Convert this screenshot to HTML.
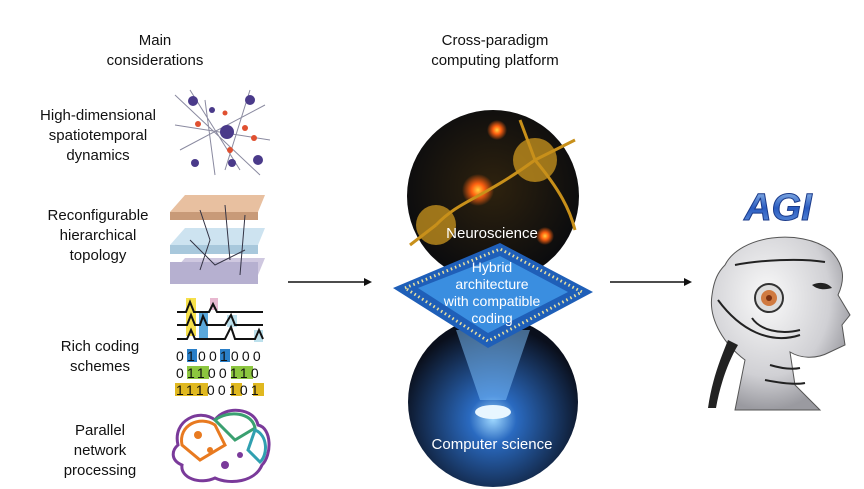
<!DOCTYPE html>
<html><head><meta charset="utf-8"><style>
html,body{margin:0;padding:0;background:#fff;width:864px;height:489px;overflow:hidden}
svg{display:block;font-size:15px}
text{font-family:"Liberation Sans",sans-serif;fill:#111}
</style></head><body>
<svg width="864" height="489" viewBox="0 0 864 489" xmlns="http://www.w3.org/2000/svg">
<defs>
<radialGradient id="neu" cx="50%" cy="45%" r="55%"><stop offset="0" stop-color="#2e220e"/><stop offset="1" stop-color="#0a0b0e"/></radialGradient>
<radialGradient id="cs" cx="50%" cy="60%" r="55%"><stop offset="0" stop-color="#9fd8ff"/><stop offset="0.25" stop-color="#2a6ac0"/><stop offset="1" stop-color="#0a0f1c"/></radialGradient>
<radialGradient id="glow" r="50%"><stop offset="0" stop-color="#ffd040"/><stop offset="0.4" stop-color="#ff6010"/><stop offset="1" stop-color="#ff6010" stop-opacity="0"/></radialGradient>
<linearGradient id="agi" x1="0" y1="0" x2="0" y2="1"><stop offset="0" stop-color="#9fc6f0"/><stop offset="0.5" stop-color="#2a5cc0"/><stop offset="1" stop-color="#6a9ae0"/></linearGradient>
<radialGradient id="head" cx="40%" cy="35%" r="65%"><stop offset="0" stop-color="#fafafa"/><stop offset="0.7" stop-color="#d0d0d4"/><stop offset="1" stop-color="#9a9aa0"/></radialGradient>
</defs>
<text x="155" y="45" text-anchor="middle">Main</text>
<text x="155" y="65" text-anchor="middle">considerations</text>
<text x="98" y="120" text-anchor="middle">High-dimensional</text>
<text x="98" y="140" text-anchor="middle">spatiotemporal</text>
<text x="98" y="160" text-anchor="middle">dynamics</text>
<text x="98" y="220" text-anchor="middle">Reconfigurable</text>
<text x="98" y="240" text-anchor="middle">hierarchical</text>
<text x="98" y="260" text-anchor="middle">topology</text>
<text x="100" y="351" text-anchor="middle">Rich coding</text>
<text x="100" y="371" text-anchor="middle">schemes</text>
<text x="100" y="435" text-anchor="middle">Parallel</text>
<text x="100" y="455" text-anchor="middle">network</text>
<text x="100" y="475" text-anchor="middle">processing</text>
<text x="495" y="45" text-anchor="middle">Cross-paradigm</text>
<text x="495" y="65" text-anchor="middle">computing platform</text>

<g stroke="#8a8aa0" stroke-width="1" fill="none">
<path d="M175 95 L260 175 M180 150 L265 105 M190 90 L240 170 M175 125 L270 140 M205 100 L215 175 M250 90 L225 170"/>
</g>
<g fill="#4a3a8a">
<circle cx="227" cy="132" r="7"/><circle cx="193" cy="101" r="5"/><circle cx="250" cy="100" r="5"/><circle cx="258" cy="160" r="5"/><circle cx="195" cy="163" r="4"/><circle cx="232" cy="163" r="4"/><circle cx="212" cy="110" r="3"/>
</g>
<g fill="#e05030"><circle cx="198" cy="124" r="3"/><circle cx="245" cy="128" r="3"/><circle cx="254" cy="138" r="3"/><circle cx="230" cy="150" r="3"/><circle cx="225" cy="113" r="2.5"/></g>

<polygon points="170,212 185,195 265,195 258,212" fill="#e8c0a0"/><rect x="170" y="212" width="88" height="8" fill="#c89a78"/>
<polygon points="170,245 185,228 265,228 258,245" fill="#c8e0ee" opacity=".9"/><rect x="170" y="245" width="88" height="9" fill="#a8c8dc"/>
<polygon points="170,275 185,258 265,258 258,275" fill="#cfc8e0"/><rect x="170" y="262" width="88" height="22" fill="#b6b0d0"/>
<g stroke="#334" stroke-width="1" fill="none"><path d="M200 210 L210 240 L200 270 M225 205 L230 260 M245 215 L240 275 M190 240 L215 265 L245 250"/></g>

<rect x="186" y="298" width="10" height="38" fill="#f6e04a"/><rect x="199" y="313" width="9" height="25" fill="#5aa8dc"/>
<rect x="210" y="298" width="8" height="12" fill="#e8b8d0"/><rect x="227" y="315" width="10" height="12" fill="#bce0ec"/><rect x="254" y="330" width="9" height="12" fill="#bce0ec"/>
<g stroke="#111" stroke-width="2" fill="none">
<path d="M177 312 H186 L190 302 L194 312 H209 L213 304 L217 312 H263"/>
<path d="M177 325 H187 L191 315 L195 325 H200 L203 316 L207 325 H225 L231 315 L235 325 H263"/>
<path d="M177 339 H187 L191 330 L195 339 H225 L231 327 L235 339 H255 L259 330 L263 339"/>
</g>
<rect x="187" y="349" width="10" height="13" fill="#2a7fc8"/><rect x="220" y="349" width="10" height="13" fill="#2a7fc8"/>
<rect x="187" y="366" width="22" height="13" fill="#8cc63f"/><rect x="231" y="366" width="22" height="13" fill="#8cc63f"/>
<rect x="175" y="383" width="33" height="13" fill="#e0b820"/><rect x="231" y="383" width="11" height="13" fill="#e0b820"/><rect x="253" y="383" width="11" height="13" fill="#e0b820"/>
<text x="176" y="361" font-size="14" letter-spacing="3.2">01001000</text>
<text x="176" y="378" font-size="14" letter-spacing="3.2">01100110</text>
<text x="176" y="395" font-size="14" letter-spacing="3.2">11100101</text>

<g fill="none" stroke-width="3">
<path d="M178 445 C172 420 200 408 215 420 C225 405 255 408 258 425 C272 428 272 455 262 465 C255 482 230 485 215 478 C200 485 180 478 182 465 C170 460 172 450 178 445Z" stroke="#7a3a9a"/>
<path d="M182 445 C178 425 200 415 215 425 L225 445 L200 460 Z" stroke="#e87a20"/>
<path d="M215 420 C228 410 252 412 255 428 L235 440 Z" stroke="#3aa070"/>
<path d="M255 430 C268 435 268 455 260 462 L248 450 Z" stroke="#30a0b0"/>
</g>
<g fill="#7a3a9a"><circle cx="225" cy="465" r="4"/><circle cx="240" cy="455" r="3"/></g>
<g fill="#e87a20"><circle cx="198" cy="435" r="4"/><circle cx="210" cy="450" r="3"/></g>

<g stroke="#111" stroke-width="1.5"><line x1="288" y1="282" x2="366" y2="282"/><line x1="610" y1="282" x2="686" y2="282"/></g>
<polygon points="372,282 364,278 364,286" fill="#111"/><polygon points="692,282 684,278 684,286" fill="#111"/>

<circle cx="493" cy="196" r="86" fill="url(#neu)"/>
<circle cx="436" cy="225" r="20" fill="#d8a020" opacity=".7"/><circle cx="535" cy="160" r="22" fill="#d8a020" opacity=".7"/>
<circle cx="478" cy="190" r="16" fill="url(#glow)"/><circle cx="497" cy="130" r="10" fill="url(#glow)"/><circle cx="545" cy="236" r="9" fill="url(#glow)"/>
<g stroke="#c8901a" stroke-width="3" fill="none"><path d="M436 225 C460 200 480 200 535 160 M535 160 L575 140 M535 160 L520 120 M436 225 L410 245 M535 160 C560 190 570 210 575 230"/></g>
<text x="492" y="238" text-anchor="middle" style="fill:#fff">Neuroscience</text>
<circle cx="493" cy="402" r="85" fill="url(#cs)"/>
<polygon points="480,400 506,400 530,330 456,330" fill="#7fc4ff" opacity=".5"/>
<ellipse cx="493" cy="412" rx="18" ry="7" fill="#e8f6ff"/>
<text x="492" y="449" text-anchor="middle" style="fill:#fff">Computer science</text>
<polygon points="393,288 500,243 593,292 488,348" fill="#1f5fb8"/>
<polygon points="405,288 500,249 582,292 488,341" fill="none" stroke="#e8e0a0" stroke-width="3" stroke-dasharray="1.5 3"/>
<polygon points="418,288 500,256 568,292 488,333" fill="#3a8ee0"/>
<text x="492" y="272" text-anchor="middle" font-size="14" style="fill:#fff">Hybrid</text>
<text x="492" y="289" text-anchor="middle" font-size="14" style="fill:#fff">architecture</text>
<text x="492" y="306" text-anchor="middle" font-size="14" style="fill:#fff">with compatible</text>
<text x="492" y="323" text-anchor="middle" font-size="14" style="fill:#fff">coding</text>

<text x="778" y="220" text-anchor="middle" font-size="38" font-weight="bold" font-style="italic" style="fill:url(#agi);stroke:#1a3a8a;stroke-width:1">AGI</text>
<path d="M725 265 C740 235 800 228 830 250 C845 265 845 280 838 295 L850 315 L842 325 L845 345 L830 352 C815 360 800 358 790 352 L795 385 L820 410 H735 L745 360 C725 345 708 320 712 295 C714 280 718 272 725 265Z" fill="url(#head)" stroke="#555" stroke-width="1"/>
<g stroke="#222" stroke-width="2" fill="none"><path d="M735 265 C760 260 800 258 825 262 M718 300 C740 330 770 345 800 335 M752 318 C760 330 780 335 800 330 M770 365 C780 368 790 370 800 368 M765 380 C780 383 795 385 805 383"/></g>
<path d="M728 340 C720 360 712 380 708 408 L716 408 C720 385 728 362 738 345Z" fill="#222"/>
<circle cx="769" cy="298" r="14" fill="#ddd" stroke="#333" stroke-width="2"/><circle cx="769" cy="298" r="8" fill="#d07a40"/><circle cx="769" cy="298" r="3" fill="#7a3010"/>
<path d="M812 285 C820 281 828 283 832 288 C825 290 818 290 812 285Z" fill="#222"/>
</svg>
</body></html>
